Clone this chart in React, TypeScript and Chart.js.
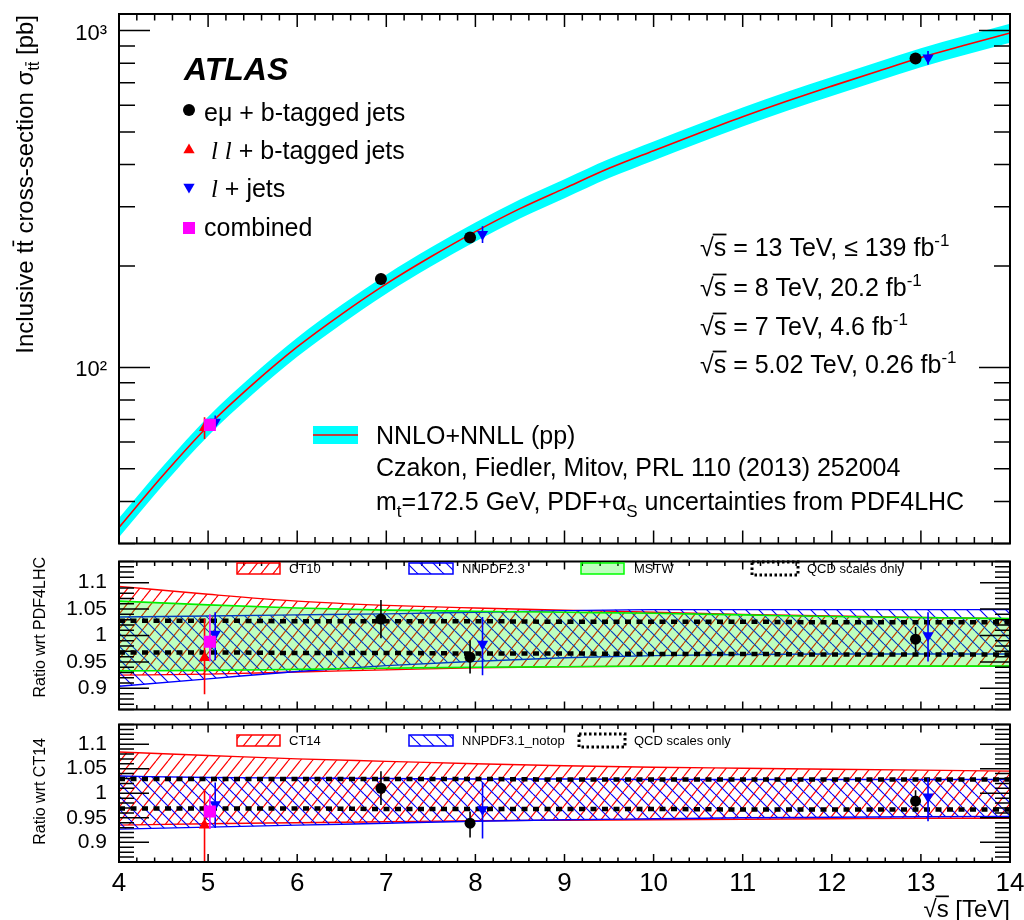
import React, { useEffect, useRef } from 'react';
import { Chart, registerables } from 'chart.js';

Chart.register(...registerables);

// ================= DATA =================
// NNLO+NNLL prediction (pb) vs sqrt(s) (TeV)
const theoryEnergy = [4, 4.5, 5, 5.5, 6, 6.5, 7, 7.5, 8, 8.5, 9, 9.5, 10, 10.5, 11, 11.5, 12, 12.5, 13, 13.5, 14];
const theorySigma = [33.5, 48, 67, 89, 115, 144, 177, 213, 253, 296, 340, 390, 440, 495, 555, 618, 684, 755, 832, 906, 984];
const theorySigmaUp = [35.7, 51.1, 71.4, 94.8, 122.5, 153.4, 188.5, 226.8, 269.4, 315.2, 362.1, 415.4, 468.6, 527.2, 591.1, 658.2, 728.5, 804.1, 886.1, 964.9, 1048.0];
const theorySigmaDown = [31.3, 44.9, 62.6, 83.2, 107.5, 134.6, 165.5, 199.2, 236.6, 276.8, 317.9, 364.7, 411.4, 462.8, 518.9, 577.8, 639.5, 705.9, 777.9, 847.1, 920.0];

// Measurements (pb)
const emuEnergy = [6.94, 7.94, 12.94];
const emuSigma = [182.9, 242.9, 826.4];
const emuSigmaErr = [7.1, 8.8, 19.9];
const llEnergy = [4.96];
const llSigma = [66.2];
const llSigmaErr = [4.9];
const ljEnergy = [5.08, 8.08, 13.08];
const ljSigma = [68.9, 248.3, 830];
const ljSigmaErr = [3.1, 14.3, 39];
const combEnergy = [5.02];
const combSigma = [67.5];
const combSigmaErr = [2.7];

// Ratio bands (sampled at bandEnergy)
const bandEnergy = [4, 5, 6, 7, 8, 9, 10, 11, 12, 13, 14];
// wrt PDF4LHC
const ct10Up = [1.093, 1.078, 1.065, 1.057, 1.052, 1.048, 1.044, 1.040, 1.037, 1.034, 1.032];
const ct10Down = [0.925, 0.927, 0.931, 0.935, 0.939, 0.941, 0.942, 0.942, 0.942, 0.942, 0.942];
const nnpdf23Up = [1.035, 1.037, 1.039, 1.041, 1.044, 1.047, 1.049, 1.049, 1.049, 1.049, 1.049];
const nnpdf23Down = [0.904, 0.918, 0.932, 0.943, 0.951, 0.958, 0.962, 0.964, 0.965, 0.965, 0.965];
const mstwUp = [1.065, 1.058, 1.052, 1.048, 1.046, 1.044, 1.042, 1.039, 1.036, 1.034, 1.032];
const mstwDown = [0.933, 0.934, 0.936, 0.938, 0.940, 0.941, 0.942, 0.942, 0.942, 0.942, 0.942];
const qcd1Up = [1.028, 1.028, 1.027, 1.027, 1.027, 1.026, 1.026, 1.026, 1.025, 1.025, 1.025];
const qcd1Down = [0.968, 0.968, 0.967, 0.967, 0.966, 0.966, 0.965, 0.965, 0.964, 0.964, 0.964];
// wrt CT14
const ct14Up = [1.084, 1.077, 1.070, 1.065, 1.060, 1.056, 1.053, 1.051, 1.049, 1.047, 1.045];
const ct14Down = [0.935, 0.938, 0.940, 0.942, 0.944, 0.945, 0.946, 0.947, 0.948, 0.949, 0.949];
const nnpdf31Up = [1.035, 1.032, 1.031, 1.030, 1.029, 1.029, 1.028, 1.028, 1.028, 1.028, 1.028];
const nnpdf31Down = [0.927, 0.931, 0.935, 0.939, 0.943, 0.946, 0.948, 0.950, 0.951, 0.952, 0.953];
const qcd2Up = [1.029, 1.029, 1.029, 1.029, 1.029, 1.028, 1.028, 1.028, 1.028, 1.028, 1.028];
const qcd2Down = [0.969, 0.969, 0.969, 0.968, 0.968, 0.968, 0.968, 0.967, 0.967, 0.967, 0.967];

// Ratio points wrt PDF4LHC
const r1EmuY = [1.031, 0.959, 0.993];
const r1EmuLo = [0.995, 0.928, 0.968];
const r1EmuHi = [1.067, 0.991, 1.016];
const r1LlY = [0.958];
const r1LlLo = [0.889];
const r1LlHi = [1.032];
const r1LjY = [1.003, 0.984, 1.0];
const r1LjLo = [0.953, 0.925, 0.951];
const r1LjHi = [1.044, 1.035, 1.044];
const r1CombY = [0.988];
const r1CombLo = [0.951];
const r1CombHi = [1.04];
// Ratio points wrt CT14
const r2EmuY = [1.01, 0.939, 0.984];
const r2EmuLo = [0.976, 0.91, 0.963];
const r2EmuHi = [1.045, 0.963, 1.006];
const r2LlY = [0.935];
const r2LlLo = [0.86];
const r2LlHi = [1.008];
const r2LjY = [0.977, 0.967, 0.993];
const r2LjLo = [0.929, 0.908, 0.943];
const r2LjHi = [1.022, 1.022, 1.031];
const r2CombY = [0.963];
const r2CombLo = [0.927];
const r2CombHi = [0.998];

// Ticks
const xTickValues = [4, 5, 6, 7, 8, 9, 10, 11, 12, 13, 14];
const xTickLabels = ['4', '5', '6', '7', '8', '9', '10', '11', '12', '13', '14'];
const topTickValues = [100, 1000];
const topTickLabels = ['10²', '10³'];
const ratioTickValues = [0.9, 0.95, 1, 1.05, 1.1];
const ratioTickLabels = ['0.9', '0.95', '1', '1.05', '1.1'];

// ================= HELPERS =================
const SANS = '"Liberation Sans", Arial, Helvetica, sans-serif';
const SERIF = '"Liberation Serif", "Times New Roman", serif';

interface Part { t: string; sub?: boolean; sup?: boolean; it?: boolean; bar?: number; rad?: boolean }

function partSize(p: Part, size: number) { return p.sub || p.sup ? size * 0.68 : size; }
function partFont(p: Part, size: number) {
  const s = partSize(p, size);
  return `${p.it ? 'italic ' : ''}${s}px ${p.it ? SERIF : SANS}`;
}
function drawRich(ctx: CanvasRenderingContext2D, x: number, y: number, parts: Part[], size: number, align: 'left' | 'right' | 'center' = 'left') {
  ctx.save();
  ctx.fillStyle = '#000';
  ctx.strokeStyle = '#000';
  ctx.textAlign = 'left';
  ctx.textBaseline = 'alphabetic';
  const widths = parts.map((p) => { ctx.font = partFont(p, size); return ctx.measureText(p.t).width; });
  const total = widths.reduce((a, b) => a + b, 0);
  let cx = align === 'left' ? x : align === 'right' ? x - total : x - total / 2;
  parts.forEach((p, i) => {
    const s = partSize(p, size);
    const dy = p.sup ? -size * 0.42 : p.sub ? size * 0.26 : 0;
    ctx.font = partFont(p, size);
    ctx.fillText(p.t, cx, y + dy);
    if (p.bar) {
      ctx.lineWidth = Math.max(1, s * 0.07);
      ctx.beginPath();
      const by = y + dy - s * p.bar;
      ctx.moveTo(p.rad ? cx - 1 : cx + widths[i] * 0.1, by);
      ctx.lineTo(cx + widths[i] * (p.rad ? 1.02 : 0.95), by);
      ctx.stroke();
    }
    cx += widths[i];
  });
  ctx.restore();
}

function marker(ctx: CanvasRenderingContext2D, kind: string, x: number, y: number, r: number, color: string) {
  ctx.save();
  ctx.fillStyle = color;
  ctx.beginPath();
  if (kind === 'circle') ctx.arc(x, y, r, 0, Math.PI * 2);
  else if (kind === 'up') { ctx.moveTo(x, y - r); ctx.lineTo(x + r * 0.866, y + r * 0.5); ctx.lineTo(x - r * 0.866, y + r * 0.5); ctx.closePath(); }
  else if (kind === 'down') { ctx.moveTo(x, y + r); ctx.lineTo(x + r * 0.866, y - r * 0.5); ctx.lineTo(x - r * 0.866, y - r * 0.5); ctx.closePath(); }
  else { const s = r * 0.707; ctx.rect(x - s, y - s, 2 * s, 2 * s); }
  ctx.fill();
  ctx.restore();
}

function makeHatch(color: string, w: number, h: number, rising: boolean) {
  const c = document.createElement('canvas');
  c.width = w; c.height = h;
  const g = c.getContext('2d')!;
  g.strokeStyle = color;
  g.lineWidth = 1.2;
  g.beginPath();
  for (let k = -1; k <= 1; k++) {
    if (rising) { g.moveTo(k * w, h); g.lineTo(k * w + w, 0); }
    else { g.moveTo(k * w, 0); g.lineTo(k * w + w, h); }
  }
  g.stroke();
  return g.createPattern(c, 'repeat')!;
}

const pts = (xs: number[], ys: number[]) => xs.map((x, i) => ({ x, y: ys[i] }));

function pointSet(xs: number[], ys: number[], lo: number[], hi: number[], style: string, color: string, radius: number, rot: number, order: number) {
  return {
    data: pts(xs, ys), showLine: false, pointStyle: style, pointRadius: radius, pointRotation: rot,
    pointBackgroundColor: color, pointBorderColor: color, pointBorderWidth: 0, borderColor: color,
    backgroundColor: color, errLo: lo, errHi: hi, errColor: color, order, fill: false,
  };
}
function lineSet(xs: number[], ys: number[], color: string, width: number, order: number, extra: any = {}) {
  return {
    data: pts(xs, ys), borderColor: color, borderWidth: width, pointRadius: 0, fill: false, order,
    cubicInterpolationMode: 'monotone', ...extra,
  };
}

const errorBarPlugin = {
  id: 'errbars',
  beforeDatasetDraw(chart: any, args: any) {
    const ds = chart.data.datasets[args.index];
    if (!ds.errLo) return;
    const ys = chart.scales.y;
    const a = chart.chartArea;
    const ctx = chart.ctx as CanvasRenderingContext2D;
    ctx.save();
    ctx.beginPath();
    ctx.rect(a.left, a.top, a.right - a.left, a.bottom - a.top);
    ctx.clip();
    ctx.strokeStyle = ds.errColor;
    ctx.lineWidth = 1.6;
    ctx.beginPath();
    args.meta.data.forEach((pt: any, i: number) => {
      ctx.moveTo(pt.x, ys.getPixelForValue(ds.errLo[i]));
      ctx.lineTo(pt.x, ys.getPixelForValue(ds.errHi[i]));
    });
    ctx.stroke();
    ctx.restore();
  },
};

function framePlugin(o: { log: boolean; yMajLen: number; yMinLen: number; xMajLen: number; xMinLen: number }) {
  return {
    id: 'frame',
    afterDatasetsDraw(chart: any) {
      const ctx = chart.ctx as CanvasRenderingContext2D;
      const a = chart.chartArea;
      const xs = chart.scales.x;
      const ys = chart.scales.y;
      ctx.save();
      ctx.strokeStyle = '#000';
      ctx.lineWidth = 1.5;
      ctx.beginPath();
      const n = Math.round((xs.max - xs.min) / 0.2);
      for (let i = 0; i <= n; i++) {
        const px = xs.getPixelForValue(xs.min + i * 0.2);
        const L = i % 5 === 0 ? o.xMajLen : o.xMinLen;
        ctx.moveTo(px, a.bottom); ctx.lineTo(px, a.bottom - L);
        ctx.moveTo(px, a.top); ctx.lineTo(px, a.top + L);
      }
      const vals: [number, boolean][] = [];
      if (o.log) {
        for (let e = 0; e <= 4; e++) for (let m = 1; m <= 9; m++) {
          const v = m * Math.pow(10, e);
          if (v >= ys.min && v <= ys.max) vals.push([v, m === 1]);
        }
      } else {
        for (let k = Math.ceil(ys.min * 100 - 1e-6); k <= Math.floor(ys.max * 100 + 1e-6); k++) {
          const v = k / 100;
          vals.push([v, ratioTickValues.some((t) => Math.abs(t - v) < 1e-6)]);
        }
      }
      for (const [v, maj] of vals) {
        const py = ys.getPixelForValue(v);
        const L = maj ? o.yMajLen : o.yMinLen;
        ctx.moveTo(a.left, py); ctx.lineTo(a.left + L, py);
        ctx.moveTo(a.right, py); ctx.lineTo(a.right - L, py);
      }
      ctx.stroke();
      ctx.lineWidth = 2;
      ctx.strokeRect(a.left, a.top, a.right - a.left, a.bottom - a.top);
      ctx.restore();
    },
  };
}

function baseOptions(padding: any, yScale: any, xScale: any) {
  return {
    animation: false,
    responsive: false,
    maintainAspectRatio: false,
    events: [],
    layout: { padding },
    plugins: { legend: { display: false }, tooltip: { enabled: false }, title: { display: false } },
    scales: { x: xScale, y: yScale },
  };
}

const hiddenX = { type: 'linear', min: 4, max: 14, display: false };

function ratioY() {
  return {
    type: 'linear', min: 0.86, max: 1.14,
    afterFit: (s: any) => { s.width = 119; s.paddingTop = 0; s.paddingBottom = 0; },
    afterBuildTicks: (s: any) => { s.ticks = ratioTickValues.map((v) => ({ value: v })); },
    ticks: {
      autoSkip: false, padding: 12, color: '#000', font: { family: SANS, size: 21 },
      callback: (v: any) => ratioTickLabels[ratioTickValues.indexOf(Number(v))] ?? '',
    },
    grid: { display: false, drawTicks: false },
    border: { display: false },
  };
}

// ================= APP =================
export default function App() {
  const topRef = useRef<HTMLCanvasElement>(null);
  const midRef = useRef<HTMLCanvasElement>(null);
  const botRef = useRef<HTMLCanvasElement>(null);

  useEffect(() => {
    const redHatch = makeHatch('#ff0000', 12, 15, true);
    const blueHatch = makeHatch('#0000ff', 13, 13, false);

    // ---------- top panel ----------
    const topDecor = {
      id: 'topDecor',
      afterDraw(chart: any) {
        const ctx = chart.ctx as CanvasRenderingContext2D;
        ctx.save();
        ctx.fillStyle = '#000';
        ctx.textBaseline = 'alphabetic';
        ctx.font = `italic bold 32px ${SANS}`;
        ctx.fillText('ATLAS', 184, 80);
        marker(ctx, 'circle', 189, 110, 6, '#000');
        drawRich(ctx, 204, 121, [{ t: 'eμ + b-tagged jets' }], 25);
        marker(ctx, 'up', 189, 150, 6.5, '#ff0000');
        drawRich(ctx, 204, 158.5, [{ t: ' ' }, { t: 'l', it: true }, { t: ' ' }, { t: 'l', it: true }, { t: ' + b-tagged jets' }], 25);
        marker(ctx, 'down', 189, 187, 6.5, '#0000ff');
        drawRich(ctx, 204, 197, [{ t: ' ' }, { t: 'l', it: true }, { t: ' + jets' }], 25);
        marker(ctx, 'square', 189, 228, 8.5, '#ff00ff');
        drawRich(ctx, 204, 235.5, [{ t: 'combined' }], 25);

        const ann: Part[][] = [
          [{ t: '√' }, { t: 's', bar: 0.86, rad: true }, { t: ' = 13 TeV, ≤ 139 fb' }, { t: '-1', sup: true }],
          [{ t: '√' }, { t: 's', bar: 0.86, rad: true }, { t: ' = 8 TeV, 20.2 fb' }, { t: '-1', sup: true }],
          [{ t: '√' }, { t: 's', bar: 0.86, rad: true }, { t: ' = 7 TeV, 4.6 fb' }, { t: '-1', sup: true }],
          [{ t: '√' }, { t: 's', bar: 0.86, rad: true }, { t: ' = 5.02 TeV, 0.26 fb' }, { t: '-1', sup: true }],
        ];
        const annY = [256, 296, 335, 373];
        ann.forEach((p, i) => drawRich(ctx, 700, annY[i], p, 25));

        ctx.fillStyle = '#00ffff';
        ctx.fillRect(313, 426, 45, 18);
        ctx.strokeStyle = '#ff0000';
        ctx.lineWidth = 1.6;
        ctx.beginPath(); ctx.moveTo(313, 435); ctx.lineTo(358, 435); ctx.stroke();
        drawRich(ctx, 376, 444, [{ t: 'NNLO+NNLL (pp)' }], 25);
        drawRich(ctx, 376, 476, [{ t: 'Czakon, Fiedler, Mitov, PRL 110 (2013) 252004' }], 25);
        drawRich(ctx, 376, 510, [{ t: 'm' }, { t: 't', sub: true }, { t: '=172.5 GeV, PDF+α' }, { t: 'S', sub: true }, { t: ' uncertainties from PDF4LHC' }], 25);

        ctx.translate(33, 15);
        ctx.rotate(-Math.PI / 2);
        drawRich(ctx, 0, 0, [
          { t: 'Inclusive t' }, { t: 't', bar: 0.82 }, { t: ' cross-section σ' },
          { t: 't', sub: true }, { t: 't', sub: true, bar: 0.82 }, { t: ' [pb]' },
        ], 24, 'right');
        ctx.restore();
      },
    };

    const top = new Chart(topRef.current as HTMLCanvasElement, {
      type: 'line',
      data: {
        datasets: [
          pointSet(combEnergy, combSigma, combSigma.map((v, i) => v - combSigmaErr[i]), combSigma.map((v, i) => v + combSigmaErr[i]), 'rect', '#ff00ff', 8.5, 0, 0),
          pointSet(llEnergy, llSigma, llSigma.map((v, i) => v - llSigmaErr[i]), llSigma.map((v, i) => v + llSigmaErr[i]), 'triangle', '#ff0000', 6.5, 0, 2),
          pointSet(ljEnergy, ljSigma, ljSigma.map((v, i) => v - ljSigmaErr[i]), ljSigma.map((v, i) => v + ljSigmaErr[i]), 'triangle', '#0000ff', 6.5, 180, 1),
          pointSet(emuEnergy, emuSigma, emuSigma.map((v, i) => v - emuSigmaErr[i]), emuSigma.map((v, i) => v + emuSigmaErr[i]), 'circle', '#000000', 6, 0, 3),
          lineSet(theoryEnergy, theorySigma, '#ff0000', 1.6, 10),
          lineSet(theoryEnergy, theorySigmaUp, 'rgba(0,0,0,0)', 0, 20, { fill: '+1', backgroundColor: '#00ffff' }),
          lineSet(theoryEnergy, theorySigmaDown, 'rgba(0,0,0,0)', 0, 21),
        ],
      },
      options: baseOptions(
        { left: 0, right: 14, top: 14, bottom: 3 },
        {
          type: 'logarithmic', min: 30, max: 1120,
          afterFit: (s: any) => { s.width = 119; s.paddingTop = 0; s.paddingBottom = 0; },
          afterBuildTicks: (s: any) => { s.ticks = topTickValues.map((v) => ({ value: v })); },
          ticks: {
            autoSkip: false, padding: 12, labelOffset: 3, color: '#000', font: { family: SANS, size: 22 },
            callback: (v: any) => topTickLabels[topTickValues.indexOf(Number(v))] ?? '',
          },
          grid: { display: false, drawTicks: false },
          border: { display: false },
        },
        hiddenX,
      ) as any,
      plugins: [errorBarPlugin, framePlugin({ log: true, yMajLen: 31, yMinLen: 16, xMajLen: 13, xMinLen: 6.5 }), topDecor],
    } as any);

    // ---------- ratio panels ----------
    function ratioLegend(ctx: CanvasRenderingContext2D, y: number, labels: string[], withMstw: boolean) {
      ctx.save();
      ctx.fillStyle = redHatch; ctx.fillRect(237, y - 5, 43, 11);
      ctx.strokeStyle = '#ff0000'; ctx.lineWidth = 1.5; ctx.strokeRect(237, y - 5, 43, 11);
      drawRich(ctx, 289, y + 5, [{ t: labels[0] }], 13);
      ctx.fillStyle = blueHatch; ctx.fillRect(409, y - 5, 44, 11);
      ctx.strokeStyle = '#0000ff'; ctx.strokeRect(409, y - 5, 44, 11);
      drawRich(ctx, 462, y + 5, [{ t: labels[1] }], 13);
      let qx = 579;
      if (withMstw) {
        ctx.fillStyle = 'rgba(0,255,0,0.25)'; ctx.fillRect(581, y - 5, 43, 11);
        ctx.strokeStyle = '#00ff00'; ctx.strokeRect(581, y - 5, 43, 11);
        drawRich(ctx, 634, y + 5, [{ t: labels[2] }], 13);
        qx = 752;
      }
      ctx.strokeStyle = '#000'; ctx.lineWidth = 3; ctx.setLineDash([2.5, 2.5]);
      ctx.strokeRect(qx, y - 6, 46, 13);
      ctx.setLineDash([]);
      drawRich(ctx, qx + 55, y + 5, [{ t: 'QCD scales only' }], 13);
      ctx.restore();
    }

    const midTop = 553;
    const midDecor = {
      id: 'midDecor',
      afterDraw(chart: any) {
        const ctx = chart.ctx as CanvasRenderingContext2D;
        ctx.save();
        ctx.translate(0, -midTop);
        ratioLegend(ctx, 568, ['CT10', 'NNPDF2.3', 'MSTW'], true);
        ctx.translate(45, 557);
        ctx.rotate(-Math.PI / 2);
        drawRich(ctx, 0, 0, [{ t: 'Ratio wrt PDF4LHC' }], 16, 'right');
        ctx.restore();
      },
    };

    const mid = new Chart(midRef.current as HTMLCanvasElement, {
      type: 'line',
      data: {
        datasets: [
          pointSet(combEnergy, r1CombY, r1CombLo, r1CombHi, 'rect', '#ff00ff', 8.5, 0, 0),
          pointSet(llEnergy, r1LlY, r1LlLo, r1LlHi, 'triangle', '#ff0000', 6.5, 0, 2),
          pointSet(ljEnergy, r1LjY, r1LjLo, r1LjHi, 'triangle', '#0000ff', 6.5, 180, 1),
          pointSet(emuEnergy, r1EmuY, r1EmuLo, r1EmuHi, 'circle', '#000000', 5.5, 0, 3),
          lineSet(bandEnergy, qcd1Up, '#000000', 4.5, 20, { borderDash: [6, 5.5] }),
          lineSet(bandEnergy, qcd1Down, '#000000', 4.5, 21, { borderDash: [6, 5.5] }),
          lineSet(bandEnergy, mstwUp, '#00ee00', 1.6, 30, { fill: '+1', backgroundColor: 'rgba(0,255,0,0.25)' }),
          lineSet(bandEnergy, mstwDown, '#00ee00', 1.6, 31),
          lineSet(bandEnergy, nnpdf23Up, '#0000ff', 1.4, 40, { fill: '+1', backgroundColor: blueHatch }),
          lineSet(bandEnergy, nnpdf23Down, '#0000ff', 1.4, 41),
          lineSet(bandEnergy, ct10Up, '#ff0000', 1.4, 50, { fill: '+1', backgroundColor: redHatch }),
          lineSet(bandEnergy, ct10Down, '#ff0000', 1.4, 51),
        ],
      },
      options: baseOptions({ left: 0, right: 14, top: 1, bottom: 3 }, ratioY(), hiddenX) as any,
      plugins: [errorBarPlugin, framePlugin({ log: false, yMajLen: 30, yMinLen: 15, xMajLen: 8, xMinLen: 4.5 }), midDecor],
    } as any);

    const botTop = 716;
    const botDecor = {
      id: 'botDecor',
      afterDraw(chart: any) {
        const ctx = chart.ctx as CanvasRenderingContext2D;
        ctx.save();
        ctx.translate(0, -botTop);
        ratioLegend(ctx, 740, ['CT14', 'NNPDF3.1_notop'], false);
        drawRich(ctx, 1010, 917, [{ t: '√' }, { t: 's', bar: 0.86, rad: true }, { t: ' [TeV]' }], 24, 'right');
        ctx.translate(45, 738);
        ctx.rotate(-Math.PI / 2);
        drawRich(ctx, 0, 0, [{ t: 'Ratio wrt CT14' }], 16, 'right');
        ctx.restore();
      },
    };

    const bot = new Chart(botRef.current as HTMLCanvasElement, {
      type: 'line',
      data: {
        datasets: [
          pointSet(combEnergy, r2CombY, r2CombLo, r2CombHi, 'rect', '#ff00ff', 8.5, 0, 0),
          pointSet(llEnergy, r2LlY, r2LlLo, r2LlHi, 'triangle', '#ff0000', 6.5, 0, 2),
          pointSet(ljEnergy, r2LjY, r2LjLo, r2LjHi, 'triangle', '#0000ff', 6.5, 180, 1),
          pointSet(emuEnergy, r2EmuY, r2EmuLo, r2EmuHi, 'circle', '#000000', 5.5, 0, 3),
          lineSet(bandEnergy, qcd2Up, '#000000', 4.5, 20, { borderDash: [6, 5.5] }),
          lineSet(bandEnergy, qcd2Down, '#000000', 4.5, 21, { borderDash: [6, 5.5] }),
          lineSet(bandEnergy, nnpdf31Up, '#0000ff', 1.4, 40, { fill: '+1', backgroundColor: blueHatch }),
          lineSet(bandEnergy, nnpdf31Down, '#0000ff', 1.4, 41),
          lineSet(bandEnergy, ct14Up, '#ff0000', 1.4, 50, { fill: '+1', backgroundColor: redHatch }),
          lineSet(bandEnergy, ct14Down, '#ff0000', 1.4, 51),
        ],
      },
      options: baseOptions({ left: 0, right: 14, top: 2, bottom: 0 }, ratioY(), {
        type: 'linear', min: 4, max: 14,
        afterFit: (s: any) => { s.height = 58; s.paddingLeft = 0; s.paddingRight = 0; },
        afterBuildTicks: (s: any) => { s.ticks = xTickValues.map((v) => ({ value: v })); },
        ticks: {
          autoSkip: false, maxRotation: 0, padding: 6, color: '#000', font: { family: SANS, size: 26 },
          callback: (v: any) => xTickLabels[xTickValues.indexOf(Number(v))] ?? '',
        },
        grid: { display: false, drawTicks: false },
        border: { display: false },
      }) as any,
      plugins: [errorBarPlugin, framePlugin({ log: false, yMajLen: 30, yMinLen: 15, xMajLen: 8, xMinLen: 4.5 }), botDecor],
    } as any);

    return () => { top.destroy(); mid.destroy(); bot.destroy(); };
  }, []);

  const cs = (t: number, h: number): React.CSSProperties => ({ position: 'absolute', left: 0, top: t, width: 1024, height: h });
  return (
    <div style={{ position: 'absolute', left: 0, top: 0, width: 1024, height: 920, background: '#fff' }}>
      <canvas ref={topRef} width={1024} height={552} style={cs(0, 552)} />
      <canvas ref={midRef} width={1024} height={165} style={cs(553, 165)} />
      <canvas ref={botRef} width={1024} height={204} style={cs(716, 204)} />
    </div>
  );
}
